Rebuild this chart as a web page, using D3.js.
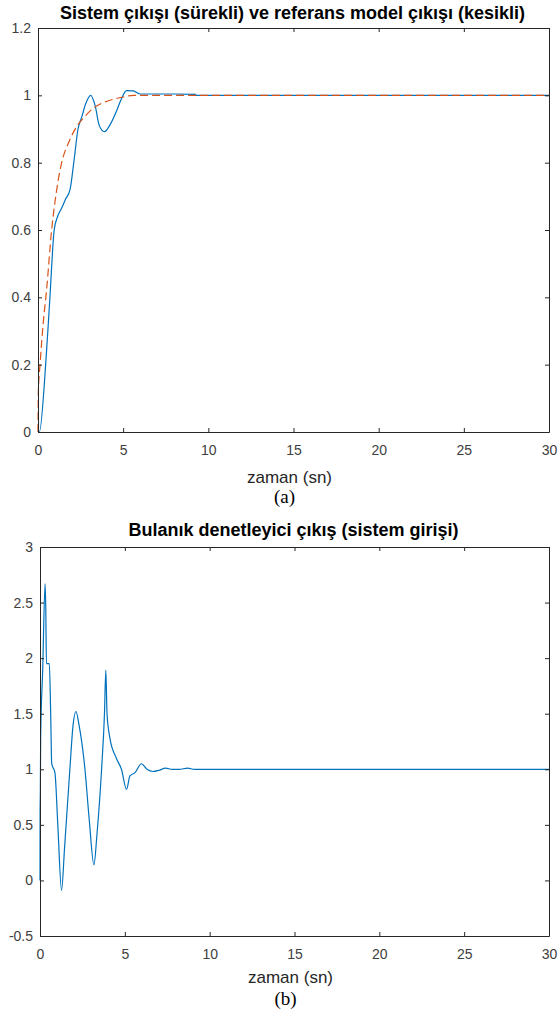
<!DOCTYPE html>
<html>
<head>
<meta charset="utf-8">
<script src="https://cdn.jsdelivr.net/npm/d3@7"></script>
<style>
  body { margin: 0; background: #fff; }
  svg { display: block; }
  .tick text { font-family: "Liberation Sans", Arial, sans-serif; fill: #404040; }
</style>
</head>
<body>
<svg id="chart"></svg>
<script>
// sistem cikisi (surekli) - time and value
const sysT = [0, 0.08, 0.45, 0.7, 0.95, 1.15, 1.39, 1.6, 1.88, 2.1, 2.35, 2.57, 2.8, 3.1, 3.35, 3.6, 3.9, 4.2, 4.63, 4.9, 5.2, 5.6, 6.0, 7.0, 8.0, 9.24, 9.3, 30]
const sysY = [0, 0, 0.2, 0.4, 0.6, 0.64, 0.665, 0.69, 0.72, 0.8, 0.9, 0.936, 0.975, 1.0, 0.97, 0.91, 0.892, 0.91, 0.956, 0.99, 1.014, 1.013, 1.004, 1.004, 1.004, 1.003, 1.0, 1.0]

// referans model cikisi (kesikli)
const refT = [0, 0.02, 0.12, 0.3, 0.5, 0.8, 1.1, 1.39, 1.8, 2.27, 2.8, 3.25, 3.8, 4.4, 5.0, 5.6, 8, 30]
const refY = [0, 0.12, 0.2, 0.32, 0.42, 0.6, 0.72, 0.8, 0.86, 0.907, 0.94, 0.962, 0.978, 0.988, 0.995, 1.0, 1.0, 1.0]

// bulanik denetleyici cikisi (sistem girisi)
const ctrlT = [0, 0.005, 0.02, 0.04, 0.16, 0.3, 0.34, 0.38, 0.55, 0.63, 0.69, 0.88, 1.05, 1.27, 1.45, 1.76, 1.95, 2.12, 2.3, 2.65, 2.9, 3.18, 3.35, 3.63, 3.8, 3.88, 3.95, 4.12, 4.5, 4.8, 5.1, 5.3, 5.6, 5.98, 6.3, 6.67, 7.0, 7.4, 7.8, 8.2, 8.7, 9.1, 30]
const ctrlY = [0, 0.6, 0.8, 1.3, 1.9, 2.67, 2.45, 1.95, 1.95, 1.5, 1.05, 0.97, 0.5, -0.09, 0.3, 1.0, 1.4, 1.52, 1.4, 1.0, 0.55, 0.14, 0.4, 1.0, 1.5, 1.89, 1.5, 1.28, 1.1, 1.0, 0.82, 0.94, 0.97, 1.05, 1.0, 0.98, 0.99, 1.01, 1.0, 1.0, 1.01, 1.0, 1.0]

const xTicks = [0, 5, 10, 15, 20, 25, 30]
const yTicksA = [0, 0.2, 0.4, 0.6, 0.8, 1, 1.2]
const yTicksB = [-0.5, 0, 0.5, 1, 1.5, 2, 2.5, 3]

const width = 559
const height = 1017
const axisColor = '#262626'
const blue = '#0072BD'
const orange = '#D95319'

const svg = d3.select('#chart')
    .attr('width', width)
    .attr('height', height)

svg.append('rect').attr('width', width).attr('height', height).attr('fill', '#fff')

// draws one matlab style axes box with ticks inward on all four sides
const drawPanel = (opts) => {
    const { left, right, top, bottom, yDomain, yTicks, title, titleY, labelY, capY, cap, series } = opts

    const x = d3.scaleLinear().domain([0, 30]).range([left, right])
    const y = d3.scaleLinear().domain(yDomain).range([bottom, top])

    const g = svg.append('g')

    const fmt = d => String(d)

    const xAxisB = d3.axisBottom(x).tickValues(xTicks).tickFormat(fmt).tickSizeInner(-4).tickSizeOuter(0).tickPadding(13)
    const xAxisT = d3.axisTop(x).tickValues(xTicks).tickFormat('').tickSizeInner(-4).tickSizeOuter(0)
    const yAxisL = d3.axisLeft(y).tickValues(yTicks).tickFormat(fmt).tickSizeInner(-4).tickSizeOuter(0).tickPadding(7)
    const yAxisR = d3.axisRight(y).tickValues(yTicks).tickFormat('').tickSizeInner(-4).tickSizeOuter(0)

    // lines first so the box sits on top
    series.forEach(s => {
        const data = s.t.map((t, i) => ({ t: t, v: s.v[i] }))
        g.append('path')
            .datum(data)
            .attr('fill', 'none')
            .attr('stroke', s.color)
            .attr('stroke-width', 1.2)
            .attr('stroke-dasharray', s.dash || null)
            .attr('d', d3.line().x(d => x(d.t)).y(d => y(d.v)).curve(d3.curveMonotoneX))
    })

    const styleAxis = sel => {
        sel.select('.domain').attr('stroke', axisColor)
        sel.selectAll('.tick line').attr('stroke', axisColor)
        sel.selectAll('.tick text').attr('font-size', 14)
    }

    g.append('g').attr('transform', `translate(0,${bottom})`).call(xAxisB).call(styleAxis)
    g.append('g').attr('transform', `translate(0,${top})`).call(xAxisT).call(styleAxis)
    g.append('g').attr('transform', `translate(${left},0)`).call(yAxisL).call(styleAxis)
    g.append('g').attr('transform', `translate(${right},0)`).call(yAxisR).call(styleAxis)

    g.selectAll('.domain').attr('stroke-width', 1)

    const cx = (left + right) / 2
    g.append('text')
        .attr('x', cx - 1).attr('y', titleY)
        .attr('text-anchor', 'middle')
        .attr('font-family', '"Liberation Sans", Arial, sans-serif')
        .attr('font-weight', 'bold')
        .attr('font-size', 18)
        .attr('fill', '#000')
        .text(title)

    g.append('text')
        .attr('x', cx - 4).attr('y', labelY)
        .attr('text-anchor', 'middle')
        .attr('font-family', '"Liberation Sans", Arial, sans-serif')
        .attr('font-size', 17)
        .attr('fill', axisColor)
        .text('zaman (sn)')

    g.append('text')
        .attr('x', cx - 9).attr('y', capY)
        .attr('text-anchor', 'middle')
        .attr('font-family', '"Liberation Serif", "Times New Roman", serif')
        .attr('font-size', 19)
        .attr('fill', '#000')
        .text(cap)
}

drawPanel({
    left: 38, right: 549, top: 28, bottom: 432,
    yDomain: [0, 1.2], yTicks: yTicksA,
    title: 'Sistem çıkışı (sürekli) ve referans model çıkışı (kesikli)',
    titleY: 19, labelY: 483, capY: 503, cap: '(a)',
    series: [
        { t: sysT, v: sysY, color: blue },
        { t: refT, v: refY, color: orange, dash: '8,4' }
    ]
})

drawPanel({
    left: 40, right: 549, top: 547, bottom: 936,
    yDomain: [-0.5, 3], yTicks: yTicksB,
    title: 'Bulanık denetleyici çıkış (sistem girişi)',
    titleY: 536, labelY: 983, capY: 1005, cap: '(b)',
    series: [
        { t: ctrlT, v: ctrlY, color: blue }
    ]
})
</script>
</body>
</html>
